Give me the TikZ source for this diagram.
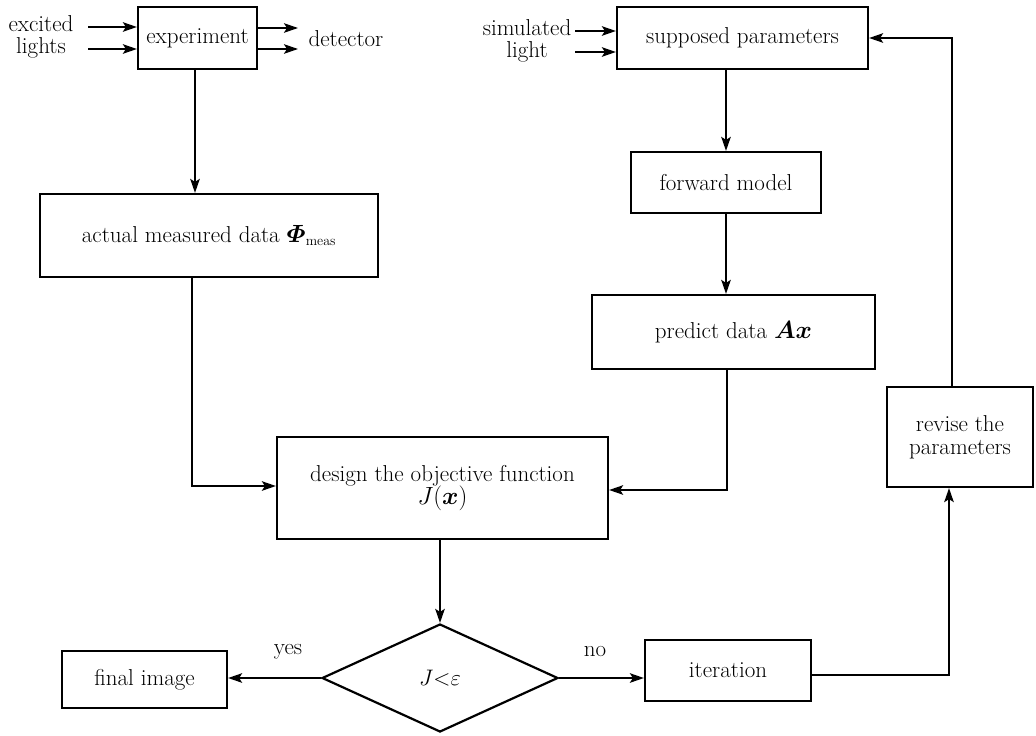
\documentclass[tikz,border=0pt]{standalone}
\usepackage{amsmath,bm,graphicx}
\usetikzlibrary{arrows.meta,shapes.geometric}
\begin{document}
\begin{tikzpicture}[x=1pt,y=-1pt,
  every node/.style={font=\fontsize{23}{26}\selectfont},
  box/.style={draw,line width=2.2pt,inner sep=0pt,align=center},
  arr/.style={line width=2pt,-{Stealth[length=14pt,width=9.5pt,inset=3pt]}},
  lbl/.style={align=center,inner sep=0pt}]
\useasboundingbox (0,0) rectangle (1036,736);
% boxes
\node[box,minimum width=119,minimum height=62] (exp) at (197.5,38) {experiment};
\node[box,minimum width=338,minimum height=83] (act) at (209,235.5) {actual measured data $\bm{\varPhi}_{\text{\fontsize{14}{15}\selectfont meas}}$};
\node[box,minimum width=331,minimum height=102] (des) at (442.5,488) {design the objective function\\[-3pt] $J(\bm{x})$};
\node[box,minimum width=251,minimum height=62] (sup) at (742.5,38) {supposed parameters};
\node[box,minimum width=190,minimum height=61] (fwd) at (726,182.5) {forward model};
\node[box,minimum width=283,minimum height=74] (pre) at (733.5,332) {predict data $\bm{Ax}$};
\node[draw,line width=2.2pt,diamond,aspect=2.19,inner sep=0pt,minimum width=236,minimum height=108,font=\fontsize{16}{18}\selectfont] (dia) at (440,678) {\scalebox{1.3}{$J{<}\varepsilon$}};
\node[box,minimum width=165,minimum height=57] (fin) at (144.5,679.5) {final image};
\node[box,minimum width=166,minimum height=61] (ite) at (728,670.5) {iteration};
\node[box,minimum width=146,minimum height=100] (rev) at (960,437) {revise the\\[-3pt] parameters};
% labels
\node[lbl] (exl) at (41,37) {excited\\[-4pt] lights};
\node[lbl] (detl) at (346,39) {detector};
\node[lbl] (siml) at (527,41) {simulated\\[-4pt] light};
\node[lbl] (yes) at (288,652) {yes};
\node[lbl] (no) at (595,652) {no};
% free ends
\coordinate (ex1) at (88,27);
\coordinate (ex2) at (88,49);
\coordinate (dt1) at (298,28);
\coordinate (dt2) at (298,49);
\coordinate (sm1) at (575,31);
\coordinate (sm2) at (575,52);
% connectors
\draw[arr] (ex1) -- (ex1 -| exp.west);
\draw[arr] (ex2) -- (ex2 -| exp.west);
\draw[arr] (dt1 -| exp.east) -- (dt1);
\draw[arr] (dt2 -| exp.east) -- (dt2);
\draw[arr] (sm1) -- (sm1 -| sup.west);
\draw[arr] (sm2) -- (sm2 -| sup.west);
\draw[arr] ([xshift=-2.5pt]exp.south) -- ([xshift=-2.5pt]exp.south |- act.north);
\draw[arr] ([xshift=-17pt]act.south) |- ([yshift=2pt]des.west);
\draw[arr] (fwd.north |- sup.south) -- (fwd.north);
\draw[arr] (fwd.south) -- (fwd.south |- pre.north);
\draw[arr] ([xshift=-6.5pt]pre.south) |- ([yshift=-2pt]des.east);
\draw[arr] (dia.north |- des.south) -- (dia.north);
\draw[arr] (dia.west) -- (dia.west -| fin.east);
\draw[arr] (dia.east) -- (dia.east -| ite.west);
\draw[arr] ([yshift=-4.5pt]ite.east) -| ([xshift=-11pt]rev.south);
\draw[arr] ([xshift=-8pt]rev.north) |- (sup.east);
\end{tikzpicture}
\end{document}
